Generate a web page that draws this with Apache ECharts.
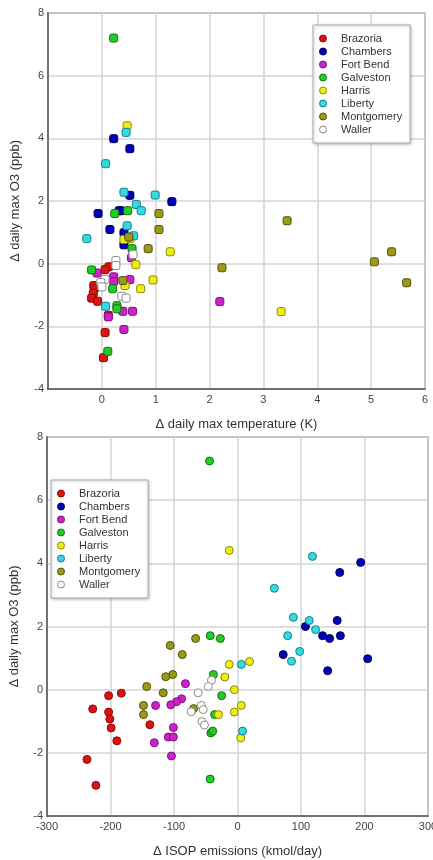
<!DOCTYPE html>
<html>
<head>
<meta charset="utf-8">
<script src="https://cdn.jsdelivr.net/npm/echarts@6/dist/echarts.min.js"></script>
<style>
  html, body { margin: 0; padding: 0; background: #fff; }
  #main { width: 433px; height: 860px; }
</style>
</head>
<body>
<div id="main"></div>
<script>
// 县名和颜色
var counties = ['Brazoria', 'Chambers', 'Fort Bend', 'Galveston', 'Harris', 'Liberty', 'Montgomery', 'Waller'];
var fills = ['#d81414', '#0000b4', '#cc22cc', '#22cc22', '#eeee14', '#36d8e2', '#9a9a16', '#ffffff'];
var borders = ['#8a0a0a', '#00005a', '#7a107a', '#127012', '#8a8a00', '#14808a', '#505008', '#8a8a8a'];

// 上图: [Δ daily max temperature (K), Δ daily max O3 (ppb)]
var brazoriaTemp = [[0.13, -0.1], [0.06, -0.19], [-0.15, -0.7], [-0.14, -0.8], [-0.16, -0.95], [-0.19, -1.1], [-0.08, -1.2], [0.12, -1.65], [0.06, -2.2], [0.03, -3.0]];
var chambersTemp = [[0.22, 3.99], [0.52, 3.67], [0.52, 2.18], [1.3, 1.98], [0.32, 1.69], [0.35, 1.69], [-0.07, 1.6], [0.15, 1.09], [0.41, 0.99], [0.41, 0.6]];
var fortBendTemp = [[0.55, 0.19], [-0.09, -0.3], [0.22, -0.42], [0.22, -0.57], [0.52, -0.51], [2.19, -1.21], [0.39, -1.52], [0.57, -1.52], [0.12, -1.7], [0.41, -2.1]];
var galvestonTemp = [[0.22, 7.2], [0.48, 1.69], [0.24, 1.6], [0.56, 0.48], [-0.19, -0.2], [0.2, -0.8], [0.28, -1.34], [0.28, -1.44], [0.11, -2.8]];
var harrisTemp = [[0.47, 4.4], [0.52, 0.8], [0.41, 0.77], [1.27, 0.38], [0.63, -0.03], [0.95, -0.52], [0.43, -0.7], [0.72, -0.8], [3.33, -1.53]];
var libertyTemp = [[0.45, 4.19], [0.07, 3.19], [0.41, 2.28], [0.99, 2.19], [0.64, 1.89], [0.73, 1.69], [0.47, 1.21], [0.59, 0.89], [-0.28, 0.8], [0.07, -1.36]];
var montgomeryTemp = [[1.06, 1.6], [3.44, 1.37], [1.06, 1.09], [0.5, 0.85], [0.86, 0.48], [5.38, 0.38], [5.06, 0.06], [2.23, -0.13], [0.39, -0.54], [5.66, -0.61]];
var wallerTemp = [[0.58, 0.29], [0.26, 0.1], [0.26, -0.06], [0.06, -0.5], [-0.02, -0.6], [0.0, -0.74], [0.37, -1.04], [0.45, -1.1]];

// 下图: [Δ ISOP emissions (kmol/day), Δ daily max O3 (ppb)]
var brazoriaIsop = [[-183, -0.11], [-203, -0.19], [-228, -0.61], [-203, -0.71], [-201, -0.93], [-138, -1.11], [-199, -1.21], [-190, -1.62], [-237, -2.21], [-223, -3.03]];
var chambersIsop = [[194, 4.03], [161, 3.71], [157, 2.19], [107, 2.0], [134, 1.71], [162, 1.71], [145, 1.62], [72, 1.11], [205, 0.98], [142, 0.6]];
var fortBendIsop = [[-82, 0.19], [-88, -0.29], [-96, -0.38], [-105, -0.48], [-129, -0.5], [-101, -1.2], [-109, -1.5], [-101, -1.5], [-131, -1.68], [-104, -2.1]];
var galvestonIsop = [[-44, 7.24], [-43, 1.71], [-27, 1.62], [-38, 0.48], [-25, -0.19], [-36, -0.79], [-42, -1.37], [-39, -1.31], [-43, -2.83]];
var harrisIsop = [[-13, 4.41], [19, 0.89], [-13, 0.8], [-20, 0.4], [-5, 0.0], [6, -0.5], [-5, -0.71], [-30, -0.79], [5, -1.53]];
var libertyIsop = [[118, 4.22], [58, 3.21], [88, 2.29], [113, 2.19], [123, 1.9], [79, 1.71], [98, 1.21], [85, 0.9], [6, 0.8], [8, -1.31]];
var montgomeryIsop = [[-66, 1.62], [-106, 1.4], [-87, 1.11], [-102, 0.48], [-113, 0.41], [-143, 0.1], [-117, -0.1], [-148, -0.5], [-69, -0.6], [-148, -0.79]];
var wallerIsop = [[-41, 0.3], [-46, 0.1], [-62, -0.1], [-57, -0.5], [-54, -0.63], [-73, -0.7], [-56, -1.01], [-52, -1.12]];

var tempData = [brazoriaTemp, chambersTemp, fortBendTemp, galvestonTemp, harrisTemp, libertyTemp, montgomeryTemp, wallerTemp];
var isopData = [brazoriaIsop, chambersIsop, fortBendIsop, galvestonIsop, harrisIsop, libertyIsop, montgomeryIsop, wallerIsop];

var font = 'Liberation Sans, Arial, sans-serif';
var gridLine = { show: true, lineStyle: { color: '#d4d4d4', width: 1.5 } };
var axisLine = { show: true, onZero: false, lineStyle: { color: '#555', width: 1.5 } };
var label = { color: '#444', fontSize: 11, fontFamily: font };
var nameStyle = { color: '#333', fontSize: 13, fontFamily: font };

var series = [];
counties.forEach(function (name, i) {
  series.push({
    name: name, type: 'scatter', xAxisIndex: 0, yAxisIndex: 0,
    data: tempData[i], symbol: 'roundRect', symbolSize: 8,
    itemStyle: { color: fills[i], borderColor: borders[i], borderWidth: 1, opacity: 1 }
  });
  series.push({
    name: name, type: 'scatter', xAxisIndex: 1, yAxisIndex: 1,
    data: isopData[i], symbol: 'circle', symbolSize: 8,
    itemStyle: { color: fills[i], borderColor: borders[i], borderWidth: 1, opacity: 1 }
  });
});

function makeLegend(left, top) {
  return {
    orient: 'vertical', left: left, top: top,
    data: counties.map(function (c, i) {
      return { name: c, itemStyle: { color: fills[i], borderColor: borders[i], borderWidth: 1 } };
    }),
    icon: 'circle', itemWidth: 26, itemHeight: 7, itemGap: 0,
    padding: [7, 8, 7, 6],
    backgroundColor: '#fff', borderColor: '#aaa', borderWidth: 1,
    shadowColor: 'rgba(0,0,0,0.25)', shadowBlur: 3, shadowOffsetX: 1, shadowOffsetY: 1,
    textStyle: { color: '#333', fontSize: 11, lineHeight: 13, fontFamily: font },
    selectedMode: false
  };
}

var myChart = echarts.init(document.getElementById('main'));
myChart.setOption({
  animation: false,
  backgroundColor: '#fff',
  grid: [
    { left: 48, top: 13, width: 377, height: 376, show: true, borderColor: '#777', borderWidth: 1.5, outerBoundsMode: 'none' },
    { left: 47, top: 437, width: 381, height: 379, show: true, borderColor: '#777', borderWidth: 1.5, outerBoundsMode: 'none' }
  ],
  legend: [makeLegend(313, 25), makeLegend(51, 480)],
  xAxis: [
    {
      gridIndex: 0, type: 'value', min: -1, max: 6, interval: 1,
      name: '\u0394 daily max temperature (K)', nameLocation: 'middle', nameGap: 29, nameTextStyle: nameStyle,
      axisLine: axisLine, axisTick: { show: false }, splitLine: gridLine,
      axisLabel: Object.assign({ margin: 5, showMinLabel: false }, label)
    },
    {
      gridIndex: 1, type: 'value', min: -300, max: 300, interval: 100,
      name: '\u0394 ISOP emissions (kmol/day)', nameLocation: 'middle', nameGap: 29, nameTextStyle: nameStyle,
      axisLine: axisLine, axisTick: { show: false }, splitLine: gridLine,
      axisLabel: Object.assign({ margin: 5 }, label)
    }
  ],
  yAxis: [
    {
      gridIndex: 0, type: 'value', min: -4, max: 8, interval: 2,
      name: '\u0394 daily max O3 (ppb)', nameLocation: 'middle', nameGap: 26, nameTextStyle: nameStyle,
      axisLine: axisLine, axisTick: { show: false }, splitLine: gridLine,
      axisLabel: Object.assign({ margin: 4 }, label)
    },
    {
      gridIndex: 1, type: 'value', min: -4, max: 8, interval: 2,
      name: '\u0394 daily max O3 (ppb)', nameLocation: 'middle', nameGap: 26, nameTextStyle: nameStyle,
      axisLine: axisLine, axisTick: { show: false }, splitLine: gridLine,
      axisLabel: Object.assign({ margin: 4 }, label)
    }
  ],
  series: series
});
</script>
</body>
</html>
